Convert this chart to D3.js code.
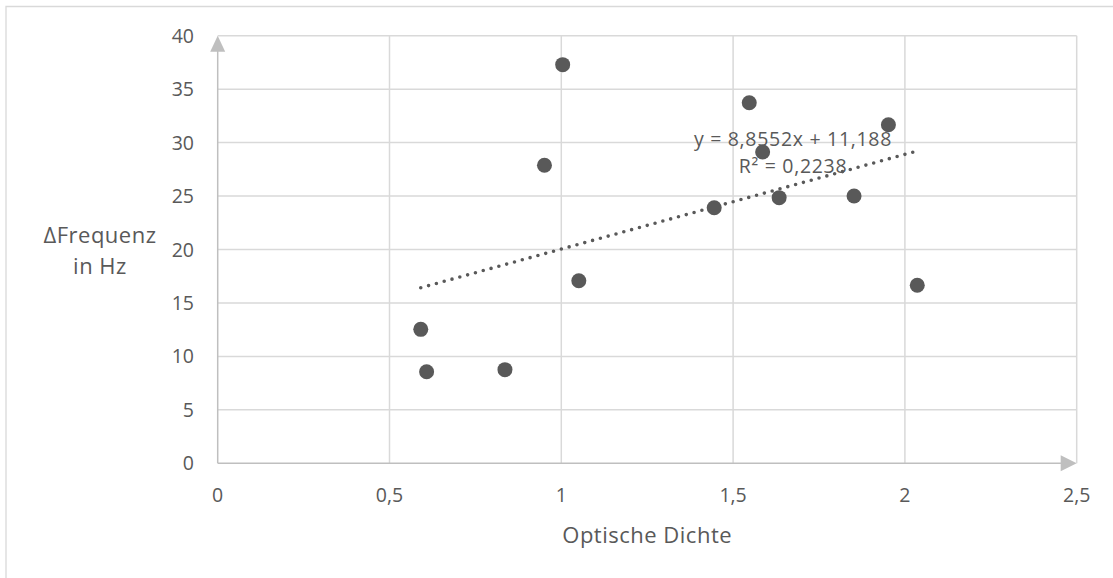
<!DOCTYPE html>
<html>
<head>
<meta charset="utf-8">
<script src="https://cdn.jsdelivr.net/npm/d3@7"></script>
<style>
  html, body { margin: 0; padding: 0; background: #fff; }
  svg text { font-family: "Open Sans", sans-serif; fill: #595959; }
</style>
</head>
<body>
<svg id="chart" width="1113" height="578"></svg>
<script>
// Optical density vs. frequency shift measurements
const opticalDensity = [0.591, 0.608, 0.836, 0.951, 1.004, 1.051, 1.445, 1.547, 1.586, 1.634, 1.852, 1.952, 2.036];
const deltaFrequency = [12.53, 8.57, 8.76, 27.88, 37.29, 17.08, 23.91, 33.73, 29.12, 24.85, 25.0, 31.67, 16.65];

// Linear trend line: y = slope * x + intercept
const trendSlope = 8.8552;
const trendIntercept = 11.188;
const trendLabel = ["y = 8,8552x + 11,188", "R² = 0,2238"];

const xTicks = [0, 0.5, 1, 1.5, 2, 2.5];
const yTicks = [0, 5, 10, 15, 20, 25, 30, 35, 40];
const xTitle = "Optische Dichte";
const yTitle = ["ΔFrequenz", "in Hz"];

const svg = d3.select("#chart");
const fmt = v => String(v).replace(".", ",");

const x = d3.scaleLinear().domain([0, 2.5]).range([217.7, 1076.7]);
const y = d3.scaleLinear().domain([0, 40]).range([463.3, 35.7]);

// Chart frame (left and top edges visible)
svg.append("path")
  .attr("d", "M6,578 V6.5 H1113")
  .attr("fill", "none")
  .attr("stroke", "#d9d9d9")
  .attr("stroke-width", 1.3);

// Gridlines
const grid = svg.append("g").attr("stroke", "#d9d9d9").attr("stroke-width", 1.5);
grid.selectAll("line.h").data(yTicks.filter(t => t > 0)).join("line")
  .attr("x1", x(0)).attr("x2", x(2.5))
  .attr("y1", d => y(d)).attr("y2", d => y(d));
grid.selectAll("line.v").data(xTicks.filter(t => t > 0)).join("line")
  .attr("x1", d => x(d)).attr("x2", d => x(d))
  .attr("y1", y(0)).attr("y2", y(40));

// Axes with arrowheads
const axisColor = "#bfbfbf";
svg.append("line")
  .attr("x1", x(0)).attr("x2", x(2.5) - 10)
  .attr("y1", y(0)).attr("y2", y(0))
  .attr("stroke", axisColor).attr("stroke-width", 1.5);
svg.append("line")
  .attr("x1", x(0)).attr("x2", x(0))
  .attr("y1", y(0)).attr("y2", y(40) + 10)
  .attr("stroke", axisColor).attr("stroke-width", 1.5);
svg.append("path")
  .attr("d", `M${x(2.5)},${y(0)} L${x(2.5) - 16},${y(0) - 8} L${x(2.5) - 16},${y(0) + 8} Z`)
  .attr("fill", axisColor);
svg.append("path")
  .attr("d", `M${x(0)},${y(40)} L${x(0) - 7.5},${y(40) + 16} L${x(0) + 7.5},${y(40) + 16} Z`)
  .attr("fill", axisColor);

// Tick labels
svg.append("g").selectAll("text").data(yTicks).join("text")
  .attr("x", 194).attr("y", d => y(d)).attr("dy", "0.36em")
  .attr("text-anchor", "end").attr("font-size", 19.5)
  .text(d => fmt(d));
svg.append("g").selectAll("text").data(xTicks).join("text")
  .attr("x", d => x(d)).attr("y", 502)
  .attr("text-anchor", "middle").attr("font-size", 19.5)
  .text(d => fmt(d));

// Axis titles
svg.append("text")
  .attr("x", (x(0) + x(2.5)) / 2).attr("y", 542.5)
  .attr("text-anchor", "middle").attr("font-size", 22).attr("letter-spacing", 0.5)
  .text(xTitle);
svg.append("g").selectAll("text").data(yTitle).join("text")
  .attr("x", 100).attr("y", (d, i) => 243 + i * 31)
  .attr("text-anchor", "middle").attr("font-size", 22).attr("letter-spacing", 0.5)
  .text(d => d);

// Trend line over the data's x range
const [xMin, xMax] = d3.extent(opticalDensity);
svg.append("line")
  .attr("x1", x(xMin)).attr("y1", y(trendSlope * xMin + trendIntercept))
  .attr("x2", x(xMax)).attr("y2", y(trendSlope * xMax + trendIntercept))
  .attr("stroke", "#595959").attr("stroke-width", 3.6)
  .attr("stroke-linecap", "round").attr("stroke-dasharray", "0,8.1");

// Data points
const pts = opticalDensity.map((d, i) => [d, deltaFrequency[i]]);
svg.append("g").selectAll("circle").data(pts).join("circle")
  .attr("cx", d => x(d[0])).attr("cy", d => y(d[1]))
  .attr("r", 7.5).attr("fill", "#595959");

// Trend equation label
svg.append("g").selectAll("text").data(trendLabel).join("text")
  .attr("x", 793).attr("y", (d, i) => 146 + i * 27)
  .attr("text-anchor", "middle").attr("font-size", 19.5).attr("letter-spacing", 0.7)
  .text(d => d);
</script>
</body>
</html>
